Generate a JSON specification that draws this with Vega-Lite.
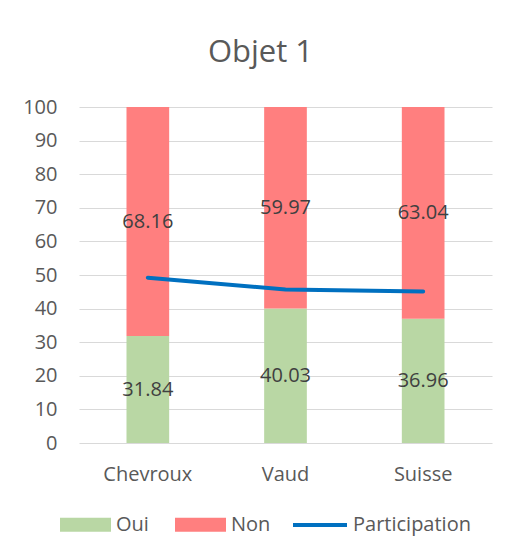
{
  "$schema": "https://vega.github.io/schema/vega-lite/v6.json",
  "width": 413,
  "height": 336,
  "autosize": {"type": "none"},
  "padding": {"left": 79, "top": 107, "right": 22, "bottom": 114},
  "background": "white",
  "title": {"text": "Objet 1", "fontSize": 31, "font": "Open Sans", "fontWeight": "normal", "color": "#595959", "anchor": "middle", "offset": 28, "dx": -25},
  "config": {
    "view": {"stroke": null},
    "font": "Open Sans",
    "axis": {"labelFont": "Open Sans", "labelColor": "#595959", "labelFontSize": 20, "domain": false, "ticks": false, "title": null},
    "legend": {"labelFont": "Open Sans", "labelColor": "#595959", "labelFontSize": 20, "title": null}
  },
  "datasets": {
    "votes": [
      {"region": "Chevroux", "vote": "Oui", "value": 31.84},
      {"region": "Chevroux", "vote": "Non", "value": 68.16},
      {"region": "Vaud", "vote": "Oui", "value": 40.03},
      {"region": "Vaud", "vote": "Non", "value": 59.97},
      {"region": "Suisse", "vote": "Oui", "value": 36.96},
      {"region": "Suisse", "vote": "Non", "value": 63.04}
    ],
    "participation": [
      {"region": "Chevroux", "participation": 49.2},
      {"region": "Vaud", "participation": 45.7},
      {"region": "Suisse", "participation": 45.1}
    ]
  },
  "encoding": {
    "x": {"field": "region", "type": "nominal", "sort": ["Chevroux", "Vaud", "Suisse"],
          "scale": {"paddingInner": 0.69, "paddingOuter": 0.345},
          "axis": {"labelAngle": 0, "labelPadding": 21, "grid": false}}
  },
  "layer": [
    {
      "data": {"name": "votes"},
      "mark": {"type": "bar"},
      "encoding": {
        "y": {"field": "value", "type": "quantitative", "stack": "zero",
              "scale": {"domain": [0, 100], "nice": false},
              "axis": {"values": [0,10,20,30,40,50,60,70,80,90,100], "tickCount": 11, "labelOverlap": false, "labelPadding": 22, "grid": true, "gridColor": "#D9D9D9", "gridWidth": 1}},
        "order": {"field": "vote", "sort": "descending"},
        "color": {"field": "vote", "type": "nominal",
                  "scale": {"domain": ["Oui", "Non"], "range": ["#B9D7A4", "#FF7F7F"]},
                  "legend": {"orient": "none", "legendX": -19, "legendY": 392, "direction": "horizontal",
                             "symbolType": "M-1,-0.275H1V0.275H-1Z", "symbolSize": 2601, "symbolStrokeWidth": 0,
                             "labelOffset": 5, "columnPadding": 26}}
      }
    },
    {
      "data": {"name": "votes"},
      "transform": [
        {"stack": "value", "groupby": ["region"], "sort": [{"field": "vote", "order": "descending"}], "as": ["v0", "v1"]},
        {"calculate": "(datum.v0 + datum.v1) / 2", "as": "mid"}
      ],
      "mark": {"type": "text", "fontSize": 20, "color": "#404040", "font": "Open Sans"},
      "encoding": {
        "y": {"field": "mid", "type": "quantitative"},
        "text": {"field": "value", "type": "quantitative", "format": ".2f"}
      }
    },
    {
      "data": {"name": "participation"},
      "mark": {"type": "line", "strokeWidth": 4, "strokeCap": "round"},
      "encoding": {
        "y": {"field": "participation", "type": "quantitative"},
        "stroke": {"datum": "Participation", "type": "nominal",
                   "scale": {"domain": ["Participation"], "range": ["#0070C0"]},
                   "legend": {"orient": "none", "legendX": 212, "legendY": 389,
                              "symbolType": "stroke", "symbolSize": 2916, "symbolStrokeWidth": 4,
                              "labelOffset": 4}}
      }
    }
  ]
}
